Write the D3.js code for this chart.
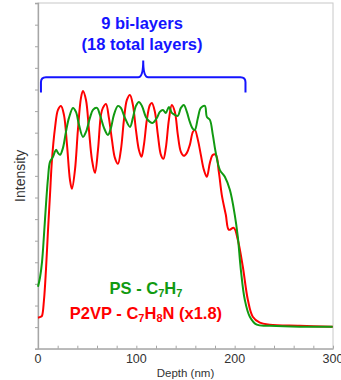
<!DOCTYPE html>
<html>
<head>
<meta charset="utf-8">
<script src="https://cdn.jsdelivr.net/npm/d3@7"></script>
<style>
  body { margin: 0; background: #fff; }
  svg { display: block; font-family: Arial, "Liberation Sans", sans-serif; }
</style>
</head>
<body>
<div id="chart"></div>
<script>
var w = 341;
var h = 380;
var margin = {top: 3, right: 8, bottom: 31.3, left: 38};

// depth (nm) and intensity (arbitrary units)
var p2vpDepth = [0, 3, 4.1, 6.1, 8.1, 10.2, 12.2, 14.2, 17.3, 20.3, 23.4, 26.4, 29.5, 32.5, 34.5, 37.6, 40.6, 43.7, 45.7, 48.8,
	51.8, 54.9, 57.9, 61, 64, 66, 69.1, 72.1, 75.2, 78.2, 81.3, 84.3, 87.4, 90.4, 93.5, 96.5, 99.6, 102.6, 105.2, 107.7,
	110.7, 113.8, 115.8, 118.9, 121.9, 125, 127.5, 130, 133.1, 136.1, 139.2, 142.2, 145.3, 148.3, 151.4, 154.4, 157.5, 159.5,
	162.6, 165.6, 168.7, 171.7, 174.8, 177.8, 180.8, 183.9, 186.9, 191, 194.1, 199.1, 203.2, 208.3, 213.4, 218.4, 225.6,
	235.7, 266.2, 299.7];
var p2vpIntensity = [31, 32, 33, 49, 79, 119, 154, 189, 221, 239, 243, 234, 204, 169, 160, 179, 219, 251, 258, 249,
	219, 189, 176, 199, 234, 241, 245, 231, 209, 191, 185, 199, 229, 249, 254, 244, 219, 199, 192, 204,
	229, 244, 246, 237, 214, 194, 190, 201, 229, 244, 237, 214, 197, 193, 196, 204, 217, 219,
	209, 194, 179, 172, 186, 194, 194, 177, 154, 134, 119, 121, 109, 82, 49, 32, 26,
	24, 23, 22];

var psDepth = [0, 2, 4.1, 6.1, 8.1, 10.2, 12.2, 15.2, 18.3, 20.3, 22.4, 25.4, 28.4, 31.5, 35.6, 38.6, 41.7, 45.7, 48.8, 52.8,
	55.9, 59.9, 63, 67.1, 71.1, 74.2, 77.2, 81.3, 84.3, 88.4, 93.5, 96.5, 99.6, 102.6, 105.7, 109.7, 113.8, 116.8, 120.9,
	123.9, 127, 130, 133.1, 136.1, 139.2, 142.2, 145.3, 148.3, 151.4, 154.4, 157.5, 159.5, 162.6, 165.6, 169.7, 171.7,
	174.8, 177.8, 180.8, 184.9, 190, 195.1, 200.1, 203.2, 206.3, 210.3, 215.4, 222.5, 235.7, 266.2, 299.7];
var psIntensity = [62, 71, 87, 114, 144, 171, 187, 192, 199, 196, 194, 201, 217, 231, 241, 237, 224, 212, 217, 231,
	239, 241, 234, 221, 214, 221, 234, 243, 241, 231, 222, 231, 243, 247, 243, 232, 227, 226, 231,
	237, 239, 236, 242, 236, 234, 233, 241, 244, 237, 227, 220, 219, 231, 241, 243, 232,
	229, 214, 196, 179, 172, 159, 134, 112, 79, 49, 32, 24, 23, 22, 22];

var xTicks = [0, 20, 40, 60, 80, 100, 120, 140, 160, 180, 200, 220, 240, 260, 280, 300];
var xLabels = [0, 100, 200, 300];
var yTicks = [0, 21.6, 43.2, 64.9, 86.5, 108.1, 129.7, 151.3, 173, 194.6, 216.2, 237.8, 259.4, 281.1, 302.7, 324.3, 345.9];

var bracketStart = 3;    // nm
var bracketEnd = 211;    // nm
var bracketMid = 107;    // nm

var svg = d3.select("#chart")
	.append("svg")
	.attr("width", w)
	.attr("height", h);

var xScale = d3.scaleLinear()
	.domain([0, 300])
	.range([margin.left, w - margin.right]);

var yScale = d3.scaleLinear()
	.domain([0, 346])
	.range([h - margin.bottom, margin.top]);

var gray = "#a6a6a6";

// plot frame
svg.append("rect")
	.attr("x", xScale(0))
	.attr("y", yScale(346))
	.attr("width", xScale(300) - xScale(0))
	.attr("height", yScale(0) - yScale(346))
	.attr("fill", "none")
	.attr("stroke", "#c8c8c8")
	.attr("stroke-width", 1);

// y axis, no labels
var yAxis = svg.append("g")
	.attr("transform", "translate(" + xScale(0) + ",0)")
	.call(d3.axisLeft(yScale).tickValues(yTicks).tickSize(3).tickFormat(""));
yAxis.select(".domain").attr("stroke", gray).attr("stroke-width", 1.3);
yAxis.selectAll(".tick line").attr("stroke", gray);

// x axis
var xAxis = svg.append("g")
	.attr("transform", "translate(0," + yScale(0) + ")")
	.call(d3.axisBottom(xScale).tickValues(xTicks).tickSizeInner(-3).tickSizeOuter(0).tickFormat(""));
xAxis.select(".domain").attr("stroke", gray).attr("stroke-width", 1.3);
xAxis.selectAll(".tick line").attr("stroke", gray);

svg.selectAll(".xlabel")
	.data(xLabels)
	.enter()
	.append("text")
	.attr("class", "xlabel")
	.attr("x", function (d) { return xScale(d); })
	.attr("y", 363)
	.attr("text-anchor", "middle")
	.attr("font-size", "12.5px")
	.attr("fill", "#333")
	.text(function (d) { return d; });

svg.append("text")
	.attr("x", (xScale(0) + xScale(300)) / 2)
	.attr("y", 377)
	.attr("text-anchor", "middle")
	.attr("font-size", "11.5px")
	.attr("fill", "#333")
	.text("Depth (nm)");

svg.append("text")
	.attr("transform", "translate(25," + (yScale(0) + yScale(346)) / 2 + ") rotate(-90)")
	.attr("text-anchor", "middle")
	.attr("font-size", "14px")
	.attr("fill", "#333")
	.text("Intensity");

// curves
var line = d3.line()
	.x(function (d) { return xScale(d[0]); })
	.y(function (d) { return yScale(d[1]); })
	.curve(d3.curveCatmullRom);

var psData = d3.zip(psDepth, psIntensity);
var p2vpData = d3.zip(p2vpDepth, p2vpIntensity);

svg.append("path")
	.datum(p2vpData)
	.attr("d", line)
	.attr("fill", "none")
	.attr("stroke", "#ff0000")
	.attr("stroke-width", 2);

svg.append("path")
	.datum(psData)
	.attr("d", line)
	.attr("fill", "none")
	.attr("stroke", "#119a11")
	.attr("stroke-width", 2);

// bracket
var bx0 = xScale(bracketStart), bx1 = xScale(bracketEnd), bxm = xScale(bracketMid);
var by = 77.3, byEnd = 92.5, byTip = 60.5, r = 5;
var bracePath = "M" + bx0 + "," + byEnd +
	" L" + bx0 + "," + (by + r) +
	" Q" + bx0 + "," + by + " " + (bx0 + r) + "," + by +
	" L" + (bxm - r) + "," + by +
	" Q" + bxm + "," + by + " " + bxm + "," + byTip +
	" Q" + bxm + "," + by + " " + (bxm + r) + "," + by +
	" L" + (bx1 - r) + "," + by +
	" Q" + bx1 + "," + by + " " + bx1 + "," + (by + r) +
	" L" + bx1 + "," + byEnd;
svg.append("path")
	.attr("d", bracePath)
	.attr("fill", "none")
	.attr("stroke", "#1414ff")
	.attr("stroke-width", 2);

svg.append("text")
	.attr("x", 142)
	.attr("y", 28.5)
	.attr("text-anchor", "middle")
	.attr("font-size", "16.5px")
	.attr("font-weight", "bold")
	.attr("fill", "#1414ff")
	.text("9 bi-layers");

svg.append("text")
	.attr("x", 142)
	.attr("y", 49.5)
	.attr("text-anchor", "middle")
	.attr("font-size", "16.5px")
	.attr("font-weight", "bold")
	.attr("fill", "#1414ff")
	.text("(18 total layers)");

// legend text with subscripts
function chem(y, color, parts) {
	var t = svg.append("text")
		.attr("x", 146)
		.attr("y", y)
		.attr("text-anchor", "middle")
		.attr("font-size", "16.5px")
		.attr("font-weight", "bold")
		.attr("fill", color);
	parts.forEach(function (p) {
		var s = t.append("tspan").text(p[0]);
		if (p[1]) {
			s.attr("font-size", "11px").attr("dy", "3");
		} else {
			s.attr("dy", p[2] ? "-3" : "0");
		}
	});
}

chem(293.5, "#119a11", [["PS - C"], ["7", true], ["H", false, true], ["7", true]]);
chem(318.5, "#ff0000", [["P2VP - C"], ["7", true], ["H", false, true], ["8", true], ["N (x1.8)", false, true]]);
</script>
</body>
</html>
